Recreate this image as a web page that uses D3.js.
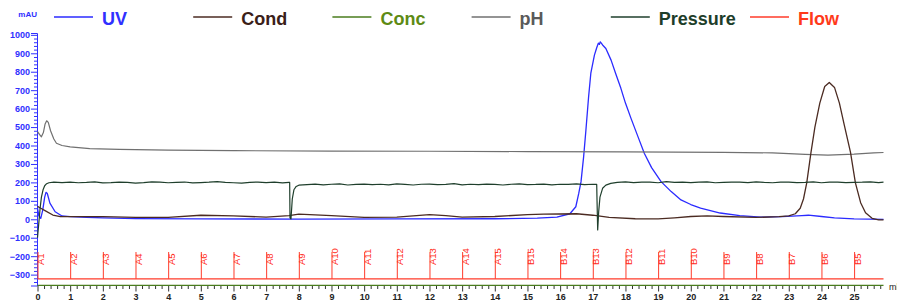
<!DOCTYPE html>
<html>
<head>
<meta charset="utf-8">
<script src="https://cdn.jsdelivr.net/npm/d3@7/dist/d3.min.js"></script>
<style>
  body { margin: 0; background: #fff; }
  svg { display: block; font-family: "Liberation Sans", Arial, sans-serif; }
</style>
</head>
<body>
<svg id="chart" width="897" height="301"></svg>
<script>
// chromatogram values (ml, value)
const uvData = [[0,60],[0.04,20],[0.1,5],[0.16,50],[0.22,120],[0.26,146],[0.3,140],[0.38,88],[0.54,41],[0.75,18],[1,14],[1.5,11],[2,8],[3,4],[5,2],[8,1],[11,2],[14,3],[15.3,6],[15.9,12],[16.3,30],[16.48,68],[16.57,140],[16.64,204],[16.72,340],[16.79,484],[16.87,660],[16.94,792],[17.05,890],[17.12,930],[17.17,955],[17.2,948],[17.23,962],[17.26,955],[17.3,945],[17.4,926],[17.56,863],[17.7,790],[17.86,710],[18.0,630],[18.17,547],[18.4,440],[18.58,357],[18.8,280],[19.09,204],[19.4,150],[19.7,105],[20.0,80],[20.3,61],[20.9,34],[21.5,20],[22.15,12],[22.8,14],[23.4,20],[23.6,22],[24.0,15],[24.4,8],[25.0,2],[25.9,0]];

const condData = [[0,70],[0.1,60],[0.23,47],[0.47,23],[0.7,14],[1.2,14],[2,14],[3,10],[4,10],[5,22],[6,18],[7,12],[7.7,20],[8,28],[9,20],[10,10],[11,12],[12,25],[12.5,20],[13,12],[14,15],[15,25],[15.5,28],[16.5,30],[17,22],[17.5,10],[18.3,3],[19,2],[19.5,8],[20,15],[20.5,18],[21,15],[22,10],[22.7,14],[23.0,18],[23.2,30],[23.35,60],[23.45,110],[23.55,197],[23.68,363],[23.8,500],[23.95,630],[24.1,720],[24.24,742],[24.4,715],[24.55,630],[24.7,510],[24.89,363],[25.04,197],[25.2,90],[25.35,35],[25.55,5],[25.75,-3],[25.9,-3]];

const phData = [[0,475],[0.06,460],[0.12,447],[0.18,470],[0.23,515],[0.28,534],[0.33,525],[0.4,480],[0.5,435],[0.58,412],[0.75,400],[1.0,393],[1.6,383],[2.5,379],[4,375],[6,372],[9,370],[12,369],[15,367],[18,365],[21,363],[22.5,360],[23.5,352],[24.2,348],[25,353],[25.6,360],[25.9,362]];

const pressureData = [[0,-100],[0.04,-20],[0.08,60],[0.12,120],[0.17,160],[0.22,182],[0.28,193],[0.35,198],[0.5,201],[0.75,199],[1,202],[1.25,198],[1.5,200],[1.75,203],[2,197],[2.25,199],[2.5,202],[2.75,200],[3,196],[3.25,199],[3.5,203],[3.75,201],[4,198],[4.25,200],[4.5,202],[4.75,197],[5,199],[5.25,201],[5.5,204],[5.75,200],[6,198],[6.25,196],[6.5,200],[6.75,202],[7,199],[7.25,201],[7.5,197],[7.7,200],
  [7.72,200],[7.73,8],[7.76,2],[7.8,110],[7.85,160],[7.92,178],[8.0,185],[8.25,188],[8.5,191],[8.75,187],[9,190],[9.25,192],[9.5,186],[9.75,189],[10,191],[10.25,188],[10.5,190],[10.75,187],[11,192],[11.25,189],[11.5,186],[11.75,190],[12,191],[12.25,188],[12.5,189],[12.75,193],[13,187],[13.25,190],[13.5,188],[13.75,191],[14,189],[14.25,186],[14.5,190],[14.75,192],[15,188],[15.25,189],[15.5,191],[15.75,187],[16,190],[16.25,189],[16.5,192],[16.75,188],[17.0,190],[17.12,189],
  [17.13,100],[17.15,-58],[17.18,40],[17.22,120],[17.3,168],[17.4,185],[17.55,195],[17.75,200],[18,203],[18.25,199],[18.5,202],[18.75,201],[19,198],[19.25,204],[19.5,200],[19.75,202],[20,199],[20.25,201],[20.5,203],[20.75,198],[21,200],[21.25,202],[21.5,201],[21.75,199],[22,203],[22.25,200],[22.5,198],[22.75,202],[23,201],[23.25,199],[23.5,200],[23.75,203],[24,198],[24.25,201],[24.5,202],[24.75,199],[25,200],[25.25,201],[25.5,203],[25.75,199],[25.9,201]];

const flowData = [[0,-323],[25.9,-323]];
const concData = [[0,-358],[25.9,-358]];

const fractionLabels = ["A1","A2","A3","A4","A5","A6","A7","A8","A9","A10","A11","A12","A13","A14","A15","B15","B14","B13","B12","B11","B10","B9","B8","B7","B6","B5"];
const fractionMl = [0,1,2,3,4,5,6,7,8,9,10,11,12,13,14,15,16,17,18,19,20,21,22,23,24,25];

const xTicks = [0,1,2,3,4,5,6,7,8,9,10,11,12,13,14,15,16,17,18,19,20,21,22,23,24,25];
const yTicks = [-300,-200,-100,0,100,200,300,400,500,600,700,800,900,1000];

const legendNames = ["UV","Cond","Conc","pH","Pressure","Flow"];

const colors = {
  UV: "#2b2bff", Cond: "#4b2b22", Conc: "#4a7d1e",
  pH: "#707070", Pressure: "#1f3f2c", Flow: "#ff3b2a"
};
const textColors = {
  UV: "#3030ff", Cond: "#3a2018", Conc: "#5d8a14",
  pH: "#5a5a5a", Pressure: "#1d3d2a", Flow: "#ff3a1a"
};

const svg = d3.select("#chart");

const x = d3.scaleLinear().domain([0, 25.9]).range([37.5, 883.5]);
const y = d3.scaleLinear().domain([-359, 1010]).range([285.5, 33]);

// legend
const leg = svg.append("g");
legendNames.forEach((name, i) => {
  const lx = 54 + i * 139.2;
  leg.append("line")
    .attr("x1", lx).attr("x2", lx + 39)
    .attr("y1", 17).attr("y2", 17)
    .attr("stroke", colors[name]).attr("stroke-width", 1.6);
  leg.append("text")
    .attr("x", lx + 48).attr("y", 24.5)
    .attr("font-size", 18).attr("font-weight", "bold")
    .attr("fill", textColors[name])
    .text(name);
});

svg.append("text")
  .attr("x", 37).attr("y", 17)
  .attr("text-anchor", "end")
  .attr("font-size", 8).attr("font-weight", "bold")
  .attr("fill", "#3030ff")
  .text("mAU");

// y axis
const yAxis = svg.append("g")
  .attr("transform", `translate(${x(0) - 0.5},0)`)
  .call(d3.axisLeft(y).tickValues(yTicks).tickSize(6).tickPadding(1).tickFormat(d3.format("d")));
yAxis.select(".domain").attr("stroke", "#3030ff");
yAxis.selectAll(".tick line").attr("stroke", "#3030ff");
yAxis.selectAll(".tick text")
  .attr("fill", "#3030ff").attr("font-size", 9).attr("font-weight", "bold")
  .attr("font-family", "Liberation Sans, Arial, sans-serif");
svg.append("g")
  .attr("transform", `translate(${x(0) - 0.5},0)`)
  .selectAll("line")
  .data(d3.range(-340, 1001, 20).filter(v => v % 100 !== 0))
  .join("line")
  .attr("x1", -3).attr("x2", 0)
  .attr("y1", d => y(d) + 0.5).attr("y2", d => y(d) + 0.5)
  .attr("stroke", "#3030ff");

// x axis
const xAxis = svg.append("g")
  .attr("transform", `translate(0,${y(-359)})`)
  .call(d3.axisBottom(x).tickValues(xTicks).tickSize(6).tickPadding(2).tickFormat(d3.format("d")));
xAxis.select(".domain").attr("stroke", "none");
xAxis.selectAll(".tick line").attr("stroke", "#333");
xAxis.selectAll(".tick text")
  .attr("fill", "#222").attr("font-size", 9).attr("font-weight", "bold")
  .attr("font-family", "Liberation Sans, Arial, sans-serif");
svg.append("g")
  .attr("transform", `translate(0,${y(-359)})`)
  .selectAll("line")
  .data(d3.range(0.2, 25.9, 0.2).filter(v => Math.abs(v - Math.round(v)) > 0.01))
  .join("line")
  .attr("x1", d => x(d) + 0.5).attr("x2", d => x(d) + 0.5)
  .attr("y1", 0).attr("y2", 3.5)
  .attr("stroke", "#333");

svg.append("text")
  .attr("x", 889).attr("y", 290)
  .attr("font-size", 9).attr("fill", "#222")
  .text("ml");

const line = d3.line().x(d => x(d[0])).y(d => y(d[1]));

const draw = (data, name, w) => svg.append("path")
  .datum(data)
  .attr("fill", "none")
  .attr("stroke", colors[name])
  .attr("stroke-width", w)
  .attr("stroke-linejoin", "round")
  .attr("d", line);

draw(concData, "Conc", 1.3);
draw(flowData, "Flow", 1.2);

// fractions
const frac = svg.append("g");
fractionMl.forEach((m, i) => {
  frac.append("line")
    .attr("x1", x(m) + 0.5).attr("x2", x(m) + 0.5)
    .attr("y1", 252).attr("y2", y(-323))
    .attr("stroke", colors.Flow).attr("stroke-width", 1);
  frac.append("text")
    .attr("transform", `translate(${x(m) + 6.5},265) rotate(-90)`)
    .attr("font-size", 9.5)
    .attr("fill", "#ff2a1a")
    .text(fractionLabels[i]);
});

draw(uvData, "UV", 1.3);
draw(phData, "pH", 1.2);
draw(condData, "Cond", 1.3);
draw(pressureData, "Pressure", 1.2);
</script>
</body>
</html>
